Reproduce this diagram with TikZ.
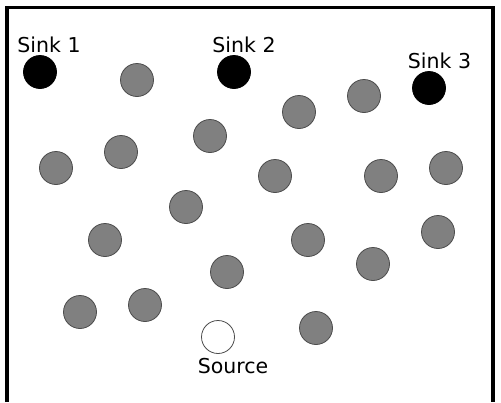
\documentclass[tikz,border=0pt]{standalone}
\usepackage{fontspec}
\setmainfont{DejaVu Sans}
\begin{document}
\begin{tikzpicture}[x=1pt,y=-1pt,
  sensor/.style={circle,minimum size=33pt,inner sep=0pt,fill=black!50,draw=black!70,line width=0.8pt},
  sinknode/.style={circle,minimum size=33pt,inner sep=0pt,fill=black,draw=black,line width=0.8pt},
  sourcenode/.style={circle,minimum size=33pt,inner sep=0pt,fill=white,draw=black!70,line width=0.8pt},
  lbl/.style={inner sep=0pt,anchor=base,font=\fontsize{20.5pt}{23pt}\selectfont}]
\useasboundingbox (0,0) rectangle (501,402);
\fill[white] (0,0) rectangle (501,402);
\coordinate (bl) at (7,402);
\coordinate (tl) at (7,7.5);
\coordinate (tr) at (493,7.5);
\coordinate (br) at (493,402);
\draw[line width=3.5pt] (bl) -- (tl) -- (tr) -- (br);
% sinks
\node[sinknode] (s1) at (40,72) {};
\node[sinknode] (s2) at (234,72) {};
\node[sinknode] (s3) at (429,88) {};
\node[lbl] (l1) at (49,52) {Sink 1};
\node[lbl] (l2) at (244,52) {Sink 2};
\node[lbl] (l3) at (439.5,68) {Sink 3};
% source
\node[sourcenode] (src) at (218,337) {};
\node[lbl] (lsrc) at (233,373) {Source};
% sensors
\node[sensor] (n1) at (137,80) {};
\node[sensor] (n2) at (121,152) {};
\node[sensor] (n3) at (56,168) {};
\node[sensor] (n4) at (210,136) {};
\node[sensor] (n5) at (299,112) {};
\node[sensor] (n6) at (364,96) {};
\node[sensor] (n7) at (275,176) {};
\node[sensor] (n8) at (381,176) {};
\node[sensor] (n9) at (446,168) {};
\node[sensor] (n10) at (186,207) {};
\node[sensor] (n11) at (105,240) {};
\node[sensor] (n12) at (227,272) {};
\node[sensor] (n13) at (80,312) {};
\node[sensor] (n14) at (145,305) {};
\node[sensor] (n15) at (308,240) {};
\node[sensor] (n16) at (373,264) {};
\node[sensor] (n17) at (438,232) {};
\node[sensor] (n18) at (316,328) {};
\end{tikzpicture}
\end{document}
